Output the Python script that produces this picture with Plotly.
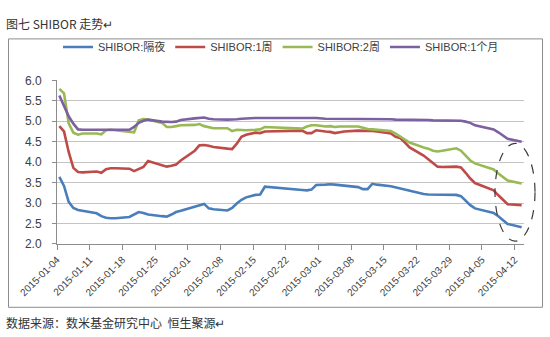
import pandas as pd
import plotly.graph_objects as go

# Trading days (2015-01-04 was a make-up working day; Spring Festival gap Feb 18-24)
dates = [
    "2015-01-04", "2015-01-05", "2015-01-06", "2015-01-07", "2015-01-08", "2015-01-09",
    "2015-01-12", "2015-01-13", "2015-01-14", "2015-01-15", "2015-01-16",
    "2015-01-19", "2015-01-20", "2015-01-21", "2015-01-22", "2015-01-23",
    "2015-01-26", "2015-01-27", "2015-01-28", "2015-01-29", "2015-01-30",
    "2015-02-02", "2015-02-03", "2015-02-04", "2015-02-05", "2015-02-06",
    "2015-02-09", "2015-02-10", "2015-02-11", "2015-02-12", "2015-02-13",
    "2015-02-15", "2015-02-16", "2015-02-17",
    "2015-02-25", "2015-02-26", "2015-02-27", "2015-02-28",
    "2015-03-02", "2015-03-03", "2015-03-04", "2015-03-05", "2015-03-06",
    "2015-03-09", "2015-03-10", "2015-03-11", "2015-03-12", "2015-03-13",
    "2015-03-16", "2015-03-17", "2015-03-18", "2015-03-19", "2015-03-20",
    "2015-03-23", "2015-03-24", "2015-03-25", "2015-03-26", "2015-03-27",
    "2015-03-30", "2015-03-31", "2015-04-01", "2015-04-02", "2015-04-03",
    "2015-04-07", "2015-04-08", "2015-04-09", "2015-04-10",
    "2015-04-13",
]

shibor_on = [
    3.64, 3.42, 3.03, 2.88, 2.83, 2.81,
    2.75, 2.68, 2.64, 2.63, 2.63,
    2.66, 2.72, 2.78, 2.76, 2.72,
    2.68, 2.67, 2.72, 2.78, 2.81,
    2.92, 2.96, 2.98, 2.87, 2.85,
    2.82, 2.88, 2.99, 3.08, 3.14,
    3.20, 3.21, 3.40,
    3.32, 3.31, 3.33, 3.44,
    3.45, 3.46, 3.45, 3.44, 3.43,
    3.39, 3.34, 3.34, 3.47, 3.45,
    3.41, 3.38, 3.36, 3.33, 3.30,
    3.22, 3.21, 3.21, 3.20, 3.20,
    3.20, 3.17, 3.05, 2.95, 2.87,
    2.76, 2.68, 2.58, 2.49,
    2.41,
]

shibor_1w = [
    4.88, 4.75, 4.25, 3.86, 3.76, 3.75,
    3.77, 3.74, 3.83, 3.85, 3.85,
    3.84, 3.78, 3.84, 3.88, 4.03,
    3.93, 3.89, 3.91, 3.94, 4.04,
    4.28, 4.41, 4.42, 4.40, 4.37,
    4.33, 4.32, 4.45, 4.62, 4.67,
    4.72, 4.71, 4.75,
    4.77, 4.71, 4.71, 4.78,
    4.75, 4.74, 4.71, 4.73, 4.75,
    4.77, 4.77, 4.76, 4.76, 4.75,
    4.70, 4.62, 4.59, 4.48, 4.36,
    4.16, 4.08, 3.98, 3.89, 3.88,
    3.89, 3.87, 3.74, 3.60, 3.49,
    3.31, 3.19, 3.08, 2.97,
    2.95,
]

shibor_2w = [
    5.79, 5.68, 4.95, 4.72, 4.67, 4.70,
    4.70, 4.68, 4.78, 4.79, 4.78,
    4.73, 4.73, 5.02, 5.05, 5.04,
    4.96, 4.86, 4.86, 4.88, 4.90,
    4.91, 4.93, 4.88, 4.85, 4.83,
    4.83, 4.76, 4.79, 4.78, 4.78,
    4.79, 4.80, 4.86,
    4.82, 4.87, 4.90, 4.90,
    4.87, 4.88, 4.86, 4.87, 4.87,
    4.87, 4.84, 4.81, 4.80, 4.79,
    4.76, 4.70, 4.63, 4.56, 4.48,
    4.36, 4.33, 4.28, 4.26, 4.28,
    4.34, 4.28, 4.16, 4.04, 3.97,
    3.82, 3.72, 3.63, 3.55,
    3.48,
]

shibor_1m = [
    5.63, 5.38, 5.12, 4.94, 4.80, 4.79,
    4.79, 4.79, 4.80, 4.80, 4.80,
    4.79, 4.86, 4.96, 5.01, 5.04,
    4.99, 4.98, 4.98, 4.99, 5.03,
    5.07, 5.08, 5.09, 5.06, 5.05,
    5.04, 5.04, 5.05, 5.06, 5.07,
    5.08, 5.08, 5.08,
    5.08, 5.08, 5.08, 5.08,
    5.06, 5.06, 5.06, 5.06, 5.06,
    5.05, 5.05, 5.05, 5.05, 5.05,
    5.05, 5.04, 5.04, 5.04, 5.04,
    5.03, 5.03, 5.02, 5.02, 5.02,
    5.01, 5.01, 4.99, 4.96, 4.90,
    4.80, 4.73, 4.64, 4.57,
    4.50,
]

series_names = ["SHIBOR:隔夜", "SHIBOR:1周", "SHIBOR:2周", "SHIBOR:1个月"]
series_colors = ["#4a7ebb", "#be4b48", "#98b954", "#7d60a0"]

tick_labels = [
    "2015-01-04", "2015-01-11", "2015-01-18", "2015-01-25", "2015-02-01",
    "2015-02-08", "2015-02-15", "2015-02-22", "2015-03-01", "2015-03-08",
    "2015-03-15", "2015-03-22", "2015-03-29", "2015-04-05", "2015-04-12",
]

title_text = "图七 SHIBOR 走势↵"
source_text = "数据来源：数米基金研究中心  恒生聚源↵"

# Canvas and plot-area geometry (pixels)
W, H = 550, 337
PL, PR, PT, PB = 57, 524, 72, 244

LATIN = "Liberation Sans, Noto Sans CJK SC, sans-serif"
CJK = "Noto Sans CJK SC, sans-serif"

x = pd.to_datetime(dates)
# Excel-style date axis: each day is a slot, tick marks sit on slot edges
half_day = pd.Timedelta(hours=12)
tick_pos = pd.to_datetime(tick_labels) - half_day
x_range = [x[0] - half_day, x[-1] + half_day]

fig = go.Figure()
for name, vals, col in zip(series_names, [shibor_on, shibor_1w, shibor_2w, shibor_1m], series_colors):
    fig.add_trace(go.Scatter(
        x=x, y=vals, name=name, mode="lines",
        line=dict(color=col, width=2.6),
    ))

pw = PR - PL
ph = PB - PT


def px_x(px):
    return (px - PL) / pw


def px_y(py):
    return (PB - py) / ph


# Outer frame around the chart
fig.add_shape(type="rect", xref="paper", yref="paper",
              x0=px_x(8.5), x1=px_x(542.5), y0=px_y(310.5), y1=px_y(28.5),
              line=dict(color="#8c8c8c", width=1), layer="below")

# Dashed ellipse highlighting the latest moves
fig.add_shape(type="circle", xref="paper", yref="y",
              x0=px_x(495), x1=px_x(535), y0=2.07, y1=4.46,
              line=dict(color="#3a3a3a", width=1.2, dash="dash"))

fig.update_layout(
    width=W, height=H,
    margin=dict(l=PL, r=W - PR, t=PT, b=H - PB),
    paper_bgcolor="white", plot_bgcolor="white",
    showlegend=True,
    legend=dict(
        orientation="h", xref="container", yref="container",
        x=58 / W, xanchor="left", y=1 - 47 / H, yanchor="middle",
        font=dict(family=LATIN, size=11, color="#404040"),
        bgcolor="rgba(0,0,0,0)", itemwidth=30, tracegroupgap=0,
    ),
    xaxis=dict(
        type="date", range=x_range,
        tickmode="array", tickvals=tick_pos, ticktext=tick_labels,
        tickangle=-45, tickfont=dict(family=LATIN, size=10, color="#404040"),
        showgrid=False, showline=True, linecolor="#8c8c8c", linewidth=1,
        ticks="outside", ticklen=5, tickcolor="#8c8c8c",
        zeroline=False, fixedrange=True,
    ),
    yaxis=dict(
        range=[2.0, 6.0], dtick=0.5, tick0=2.0, tickformat=".1f",
        tickfont=dict(family=LATIN, size=12, color="#404040"),
        ticklabelstandoff=8,
        showgrid=True, gridcolor="#c4c4c4", gridwidth=1,
        showline=True, linecolor="#8c8c8c", linewidth=1,
        ticks="outside", ticklen=4, tickcolor="#8c8c8c",
        zeroline=False, fixedrange=True,
    ),
    annotations=[
        dict(text=title_text, xref="paper", yref="paper", x=px_x(4), y=px_y(12),
             xanchor="left", yanchor="middle", showarrow=False,
             font=dict(family=CJK, size=12, color="#333333")),
        dict(text=source_text, xref="paper", yref="paper", x=px_x(4), y=px_y(326),
             xanchor="left", yanchor="middle", showarrow=False,
             font=dict(family=CJK, size=12, color="#333333")),
    ],
)

fig.write_html("out.html")
